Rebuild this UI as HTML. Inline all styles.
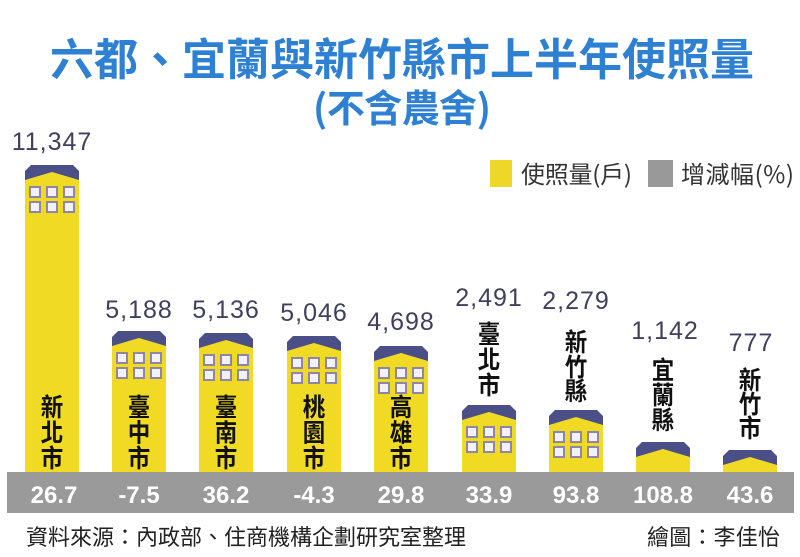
<!DOCTYPE html>
<html><head><meta charset="utf-8">
<style>
html,body{margin:0;padding:0;background:#fff;}
svg{display:block;}
.cjk{font-family:"Noto Sans CJK TC","Noto Sans CJK SC",sans-serif;}
.num{font-family:"Liberation Sans",sans-serif;}
</style></head>
<body>
<svg width="800" height="557" viewBox="0 0 800 557" xmlns="http://www.w3.org/2000/svg">
<rect width="800" height="557" fill="#fff"/>

<!-- Title -->
<text class="cjk" x="402" y="75" text-anchor="middle" font-size="44" font-weight="700" fill="#2e80d2" textLength="704" lengthAdjust="spacing">六都、宜蘭與新竹縣市上半年使照量</text>
<text class="cjk" x="402" y="122" text-anchor="middle" font-size="38" font-weight="700" fill="#2e80d2" textLength="178" lengthAdjust="spacing">(不含農舍)</text>

<!-- Legend -->
<rect x="490" y="160" width="22" height="27" fill="#eed726"/>
<text class="cjk" x="521" y="183" font-size="24" fill="#333" textLength="111" lengthAdjust="spacing">使照量(戶)</text>
<rect x="648" y="160" width="25" height="27" fill="#999"/>
<text class="cjk" x="681" y="183" font-size="24" fill="#333" textLength="113" lengthAdjust="spacing">增減幅(%)</text>

<defs>
  <g id="win">
    <rect x="5" y="22" width="10" height="10" fill="#f3f1f8" stroke="#8e86a6" stroke-width="2"/>
    <rect x="22" y="22" width="10" height="10" fill="#f3f1f8" stroke="#8e86a6" stroke-width="2"/>
    <rect x="39" y="22" width="10" height="10" fill="#f3f1f8" stroke="#8e86a6" stroke-width="2"/>
    <rect x="5" y="37" width="10" height="10" fill="#f3f1f8" stroke="#8e86a6" stroke-width="2"/>
    <rect x="22" y="37" width="10" height="10" fill="#f3f1f8" stroke="#8e86a6" stroke-width="2"/>
    <rect x="39" y="37" width="10" height="10" fill="#f3f1f8" stroke="#8e86a6" stroke-width="2"/>
  </g>
  <polygon id="roof" points="0,6 6,0 48,0 54,6 54,15 27,7 0,15" fill="#4b4f88"/>
</defs>

<!-- Buildings -->
<g>
  <rect x="25" y="171" width="54" height="301" fill="#f0da24"/>
  <use href="#roof" x="25" y="165"/><use href="#win" x="25" y="165"/>
  <rect x="112" y="337" width="54" height="135" fill="#f0da24"/>
  <use href="#roof" x="112" y="331"/><use href="#win" x="112" y="331"/>
  <rect x="199" y="339" width="54" height="133" fill="#f0da24"/>
  <use href="#roof" x="199" y="333"/><use href="#win" x="199" y="333"/>
  <rect x="287" y="342" width="54" height="130" fill="#f0da24"/>
  <use href="#roof" x="287" y="336"/><use href="#win" x="287" y="336"/>
  <rect x="374" y="352" width="54" height="120" fill="#f0da24"/>
  <use href="#roof" x="374" y="346"/><use href="#win" x="374" y="346"/>
  <rect x="462" y="411" width="54" height="61" fill="#f0da24"/>
  <use href="#roof" x="462" y="405"/><use href="#win" x="462" y="405"/>
  <rect x="549" y="416" width="54" height="56" fill="#f0da24"/>
  <use href="#roof" x="549" y="410"/><use href="#win" x="549" y="410"/>
  <rect x="636" y="448" width="54" height="24" fill="#f0da24"/>
  <use href="#roof" x="636" y="442"/>
  <rect x="723" y="456" width="54" height="16" fill="#f0da24"/>
  <use href="#roof" x="723" y="450"/>
</g>

<!-- Value labels -->
<g class="num" font-size="25" fill="#40405c" text-anchor="middle" letter-spacing="1">
  <text x="52" y="150">11,347</text>
  <text x="139" y="318">5,188</text>
  <text x="226" y="318">5,136</text>
  <text x="314" y="321">5,046</text>
  <text x="401" y="330">4,698</text>
  <text x="489" y="306">2,491</text>
  <text x="576" y="309">2,279</text>
  <text x="665" y="339">1,142</text>
  <text x="751" y="351">777</text>
</g>

<!-- City labels (vertical) -->
<g class="cjk" font-size="25" font-weight="700" fill="#111" text-anchor="middle">
  <g transform="translate(52,0) scale(0.9,1)"><text x="0" y="416">新</text><text x="0" y="441.5">北</text><text x="0" y="467">市</text></g>
  <g transform="translate(139,0) scale(0.9,1)"><text x="0" y="416">臺</text><text x="0" y="441.5">中</text><text x="0" y="467">市</text></g>
  <g transform="translate(226,0) scale(0.9,1)"><text x="0" y="416">臺</text><text x="0" y="441.5">南</text><text x="0" y="467">市</text></g>
  <g transform="translate(314,0) scale(0.9,1)"><text x="0" y="416">桃</text><text x="0" y="441.5">園</text><text x="0" y="467">市</text></g>
  <g transform="translate(401,0) scale(0.9,1)"><text x="0" y="416">高</text><text x="0" y="441.5">雄</text><text x="0" y="467">市</text></g>
  <g transform="translate(489,0) scale(0.9,1)"><text x="0" y="343">臺</text><text x="0" y="368.5">北</text><text x="0" y="394">市</text></g>
  <g transform="translate(576,0) scale(0.9,1)"><text x="0" y="351">新</text><text x="0" y="376">竹</text><text x="0" y="400">縣</text></g>
  <g transform="translate(663,0) scale(0.9,1)"><text x="0" y="379">宜</text><text x="0" y="404">蘭</text><text x="0" y="429">縣</text></g>
  <g transform="translate(750,0) scale(0.9,1)"><text x="0" y="389">新</text><text x="0" y="413">竹</text><text x="0" y="437">市</text></g>
</g>

<!-- Gray band -->
<rect x="7" y="472" width="787" height="41" fill="#9a9a9a"/>
<g class="num" font-size="24" font-weight="700" fill="#fff" text-anchor="middle">
  <text x="54" y="503">26.7</text>
  <text x="139" y="503">-7.5</text>
  <text x="226" y="503">36.2</text>
  <text x="314" y="503">-4.3</text>
  <text x="401" y="503">29.8</text>
  <text x="489" y="503">33.9</text>
  <text x="576" y="503">93.8</text>
  <text x="663" y="503">108.8</text>
  <text x="750" y="503">43.6</text>
</g>

<!-- Footer -->
<text class="cjk" x="26" y="545" font-size="22" fill="#222" textLength="440" lengthAdjust="spacing">資料來源：內政部、住商機構企劃研究室整理</text>
<text class="cjk" x="647" y="545" font-size="22" fill="#222" textLength="133" lengthAdjust="spacing">繪圖：李佳怡</text>
</svg>
</body></html>
